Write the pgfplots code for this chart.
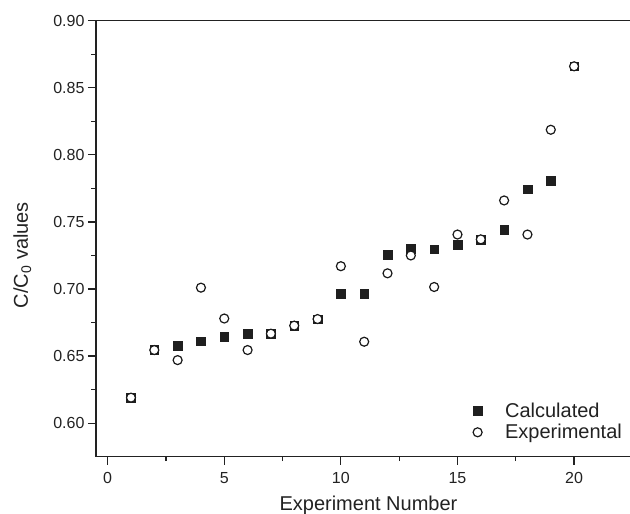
\documentclass[border=0pt]{standalone}
\usepackage{pgfplots}
\pgfplotsset{compat=1.18}
\usepackage{fontspec}
\setmainfont{Liberation Sans}
\definecolor{txt}{HTML}{222222}
\begin{document}
\begin{tikzpicture}
\begin{axis}[
  scale only axis,
  width=536.4pt, height=436pt,
  xmin=-0.5, xmax=22.5,
  ymin=0.575, ymax=0.90,
  xtick={0,5,10,15,20},
  ytick={0.60,0.65,0.70,0.75,0.80,0.85,0.90},
  minor x tick num=1,
  minor y tick num=1,
  xtick pos=bottom, ytick pos=left,
  tick align=outside,
  major tick length=8pt,
  minor tick length=4.5pt,
  every tick/.style={line width=1.2pt, color=txt},
  axis line style={line width=1.4pt, color=txt},
  /pgf/number format/assume math mode=true,
  yticklabel style={/pgf/number format/fixed, /pgf/number format/fixed zerofill, /pgf/number format/precision=2},
  tick label style={font=\fontsize{16}{19}\selectfont, color=txt},
  xticklabel style={yshift=-4pt},
  xlabel={Experiment Number},
  ylabel={C/C\textsubscript{0} values},
  label style={font=\fontsize{20}{23}\selectfont, color=txt},
  xlabel style={at={(rel axis cs:0.508,0)}, anchor=base, yshift=-54pt},
  ylabel style={at={(axis cs:-3.416,0.7253)}, anchor=base},
  legend style={draw=none, fill=none, font=\fontsize{20}{23}\selectfont, text=txt,
    at={(rel axis cs:0.99,0.028)}, anchor=south east, row sep=1.5pt,
    /tikz/every odd column/.append style={column sep=21pt}},
  legend cell align=left,
  clip=false,
]
\addplot[only marks, mark=square*, mark size=4.35pt, color=black!88, fill=black!88] coordinates {
(1,0.619) (2,0.6545) (3,0.6575) (4,0.661) (5,0.6645) (6,0.6665) (7,0.6667) (8,0.6727) (9,0.6776) (10,0.6966)
(11,0.6966) (12,0.7257) (13,0.730) (14,0.7296) (15,0.733) (16,0.737) (17,0.7443) (18,0.7744) (19,0.7809) (20,0.866)
};
\addlegendentry{Calculated}
\addplot[only marks, mark=*, mark size=4.5pt, mark options={fill=white, draw=black!90, line width=1.2pt}] coordinates {
(1,0.619) (2,0.6545) (3,0.647) (4,0.701) (5,0.678) (6,0.6545) (7,0.6667) (8,0.6727) (9,0.6776) (10,0.717)
(11,0.6607) (12,0.7117) (13,0.725) (14,0.7015) (15,0.7406) (16,0.737) (17,0.766) (18,0.7406) (19,0.8187) (20,0.866)
};
\addlegendentry{Experimental}
\coordinate (bl) at (rel axis cs:0,0);
\coordinate (tl) at (rel axis cs:0,1);
\end{axis}
\pgfresetboundingbox
\path[use as bounding box] ([shift={(-96pt,-57.3pt)}]bl) rectangle ([shift={(534pt,20.7pt)}]tl);
\end{tikzpicture}
\end{document}
